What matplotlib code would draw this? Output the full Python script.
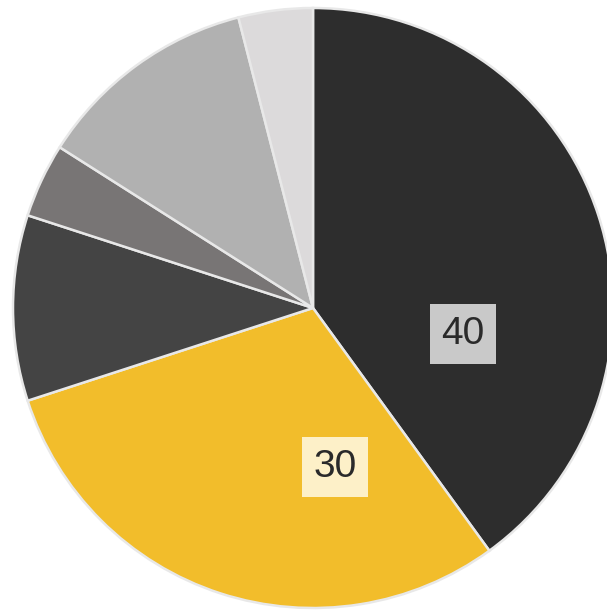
import matplotlib
matplotlib.use("Agg")
import matplotlib.pyplot as plt

values = [40, 30, 10, 4, 12, 4]
colors = ["#2d2d2d", "#f2bd2b", "#444444", "#787575", "#b1b1b1", "#dcdadb"]
labels = ["40", "30", "", "", "", ""]
label_boxes = ["#c9c9c9", "#fdf0c8"]
label_pos = [(0.50, -0.087), (0.073, -0.53)]

fig = plt.figure(figsize=(6.07, 6.13), dpi=100)
cx, cy, r = 313, 308, 300
W, H = 607, 613
ax = fig.add_axes([(cx - r) / W, (H - cy - r) / H, 2 * r / W, 2 * r / H])
ax.pie(values, colors=colors, startangle=90, counterclock=False,
       wedgeprops=dict(edgecolor="#e8e8e8", linewidth=1.8))
ax.set_xlim(-1.0, 1.0)
ax.set_ylim(-1.0, 1.0)
for lab, bc, (x, y) in zip(labels, label_boxes, label_pos):
    ax.text(x, y, lab, ha="center", va="center", fontsize=28,
            family="Liberation Sans", color="#2a2a2a",
            bbox=dict(boxstyle="square,pad=0.3", facecolor=bc, edgecolor="none"))
ax.axis("off")
fig.savefig("out.png", dpi=100, facecolor="white")
